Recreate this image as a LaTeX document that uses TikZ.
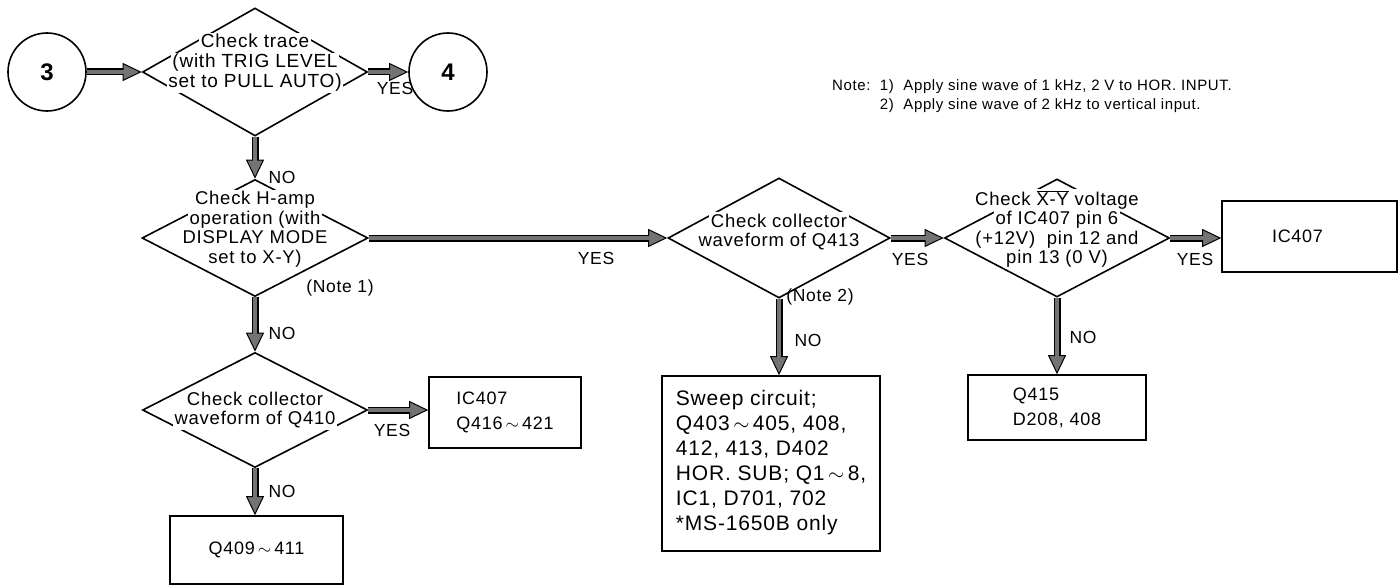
\documentclass[tikz,border=0pt]{standalone}
\usepackage{fontspec}
\setmainfont{Liberation Sans}[LetterSpace=4]
\usetikzlibrary{shapes.geometric,arrows.meta}
\newcommand\wl[1]{{\setlength{\fboxsep}{1.5pt}\colorbox{white}{#1}}}
\newcommand\tld{\,${\sim}$\,}
\begin{document}
\begin{tikzpicture}[x=1pt,y=-1pt,
  txt/.style={font=\fontsize{18.5}{19.5}\selectfont, inner sep=0pt, execute at begin node={\lineskiplimit=-50pt}},
  lbl/.style={font=\fontsize{17.5}{19}\selectfont, inner sep=0pt},
  dia/.style 2 args={diamond, draw, line width=1.6pt, minimum width=#1, minimum height=#2, inner sep=0pt},
  pbox/.style 2 args={rectangle, draw, line width=1.6pt, minimum width=#1, minimum height=#2, inner sep=0pt, align=left, font=\fontsize{18}{25}\selectfont},
  cnode/.style={circle, draw, line width=1.6pt, minimum size=78pt, inner sep=0pt, font=\bfseries\fontsize{24}{26}\selectfont},
  arr/.style={draw=black, line width=7pt,
    -{Triangle[length=19pt,width=18pt,line width=1pt,fill=black!55,color=black]},
    postaction={draw=black!55, line width=4pt, shorten >=16pt, -}}
]
\useasboundingbox (0,0) rectangle (1398,586);

% circles
\node[cnode] (c3) at (47,72) {3};
\node[cnode] (c4) at (448,72) {4};

% diamonds
\node[dia={225pt}{128pt}] (d1) at (255,72) {};
\node[dia={226pt}{117pt}] (d2) at (255,238) {};
\node[dia={222pt}{120pt}] (d3) at (779,238) {};
\node[dia={225pt}{118pt}] (d4) at (1057,238) {};
\node[dia={225pt}{115pt}] (d5) at (255,410) {};

% diamond texts
\node[txt, align=center, font=\fontsize{19}{20}\selectfont] (d1t) at (255,63) {\wl{Check trace}\\\wl{(with TRIG LEVEL}\\\wl{set to PULL AUTO)}};
\node[txt, align=center] (d2t) at (255,229) {\wl{Check H-amp}\\\wl{operation (with}\\\wl{DISPLAY MODE}\\\wl{set to X-Y)}};
\node[txt, align=center] (d3t) at (779,232) {\wl{Check collector}\\\wl{waveform of Q413}};
\node[txt, align=center] (d4t) at (1057,229) {\wl{Check $\overline{\hbox{X-Y}}$ voltage}\\\wl{of IC407 pin 6}\hspace*{38pt}\\\wl{(+12V) \ pin 12 and}\\\wl{pin 13 (0 V)}};
\node[txt, align=center] (d5t) at (255,410) {\wl{Check collector}\\\wl{waveform of Q410}};

% boxes
\node[pbox={175pt}{71pt}] (b1) at (1309.5,236.5) {IC407\hspace*{24pt}};
\node[pbox={178pt}{65pt}] (b2) at (1057,407.5) {Q415\\D208, 408};
\node[pbox={218pt}{175pt}, font=\fontsize{21}{25}\selectfont, text depth=6pt] (b3) at (771,463.5) {Sweep circuit;\\Q403\tld405, 408,\\412, 413, D402\\HOR. SUB; Q1\tld8,\\IC1, D701, 702\\*MS-1650B only};
\node[pbox={152pt}{71pt}] (b4) at (505,412.5) {IC407\\Q416\tld421};
\node[pbox={173pt}{68pt}] (b5) at (256.5,550) {Q409\tld411};

% connectors
\draw[arr] (c3) -- (d1.west);
\draw[arr] (d1.east) -- (c4);
\draw[arr] (d1.south) -- (d2.north);
\draw[arr] (d2.east) -- (d3.west);
\draw[arr] (d3.east) -- (d4.west);
\draw[arr] (d4.east) -- (d4.east -| b1.west);
\draw[arr] (d4.south) -- (d4.south |- b2.north);
\draw[arr] (d3.south) -- (d3.south |- b3.north);
\draw[arr] (d2.south) -- (d5.north);
\draw[arr] (d5.east) -- (d5.east -| b4.west);
\draw[arr] (d5.south) -- (d5.south |- b5.north);

% labels
\node[lbl] (l1) at (395,88) {YES};
\node[lbl] (l2) at (282,177) {NO};
\node[lbl] (l3) at (596,258) {YES};
\node[lbl] (l4) at (340,288) {(Note 1)};
\node[lbl] (l5) at (282,333) {NO};
\node[lbl] (l6) at (392,430) {YES};
\node[lbl] (l7) at (282,491) {NO};
\node[lbl] (l8) at (910,259) {YES};
\node[lbl] (l9) at (820,297) {(Note 2)};
\node[lbl] (l10) at (808,340) {NO};
\node[lbl] (l11) at (1195,259) {YES};
\node[lbl] (l12) at (1083,337) {NO};

% note
\node[anchor=north west, inner sep=0pt, align=left, font=\fontsize{15}{19}\selectfont] (note) at (832,79)
 {Note:\ \ 1)\ \ Apply sine wave of 1 kHz, 2 V to HOR. INPUT.\\
  \phantom{Note:\ \ }2)\ \ Apply sine wave of 2 kHz to vertical input.};
\end{tikzpicture}
\end{document}
